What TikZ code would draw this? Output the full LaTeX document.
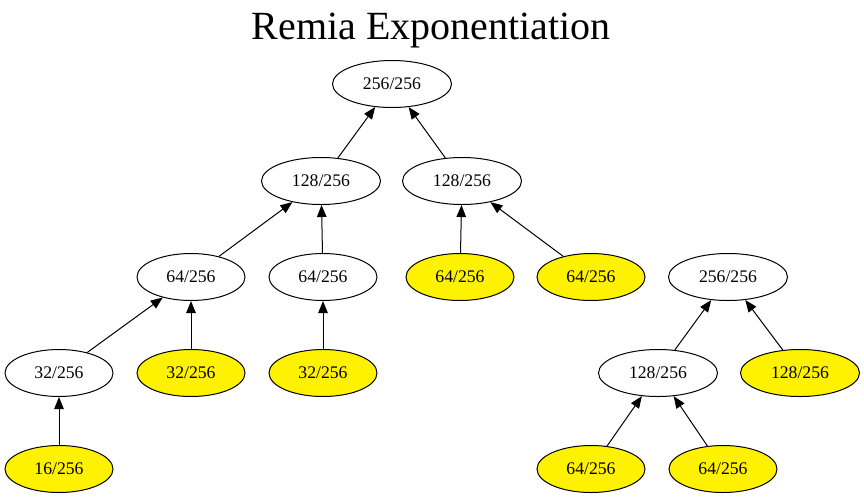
\documentclass[tikz,border=0pt]{standalone}
\usepackage{fontspec}
\setmainfont{Liberation Serif}
\usetikzlibrary{arrows.meta,shapes.geometric}
\begin{document}
\begin{tikzpicture}[x=1pt,y=-1pt,
  nd/.style={ellipse,draw=black,line width=1pt,minimum height=47pt,inner sep=0pt,font=\fontsize{17.7}{20}\selectfont},
  wide/.style={nd,minimum width=119pt},
  narrow/.style={nd,minimum width=108pt},
  hl/.style={fill=yellow},
  edge/.style={draw=black,line width=1pt,-{Triangle[length=12pt,width=9.5pt]}}]
\useasboundingbox (0,0) rectangle (864,499);
\node (title) at (431,31) {\fontsize{40}{44}\selectfont Remia Exponentiation};
\node[wide] (A) at (392,84) {256/256};
\node[wide] (B) at (321,181) {128/256};
\node[wide] (C) at (462,181) {128/256};
\node[narrow] (D) at (191,277) {64/256};
\node[narrow] (E) at (323,277) {64/256};
\node[narrow,hl] (F) at (460,277) {64/256};
\node[narrow,hl] (G) at (591,277) {64/256};
\node[narrow] (H) at (59,373) {32/256};
\node[narrow,hl] (I) at (191,373) {32/256};
\node[narrow,hl] (J) at (323,373) {32/256};
\node[narrow,hl] (K) at (59,469) {16/256};
\node[wide] (L) at (728,277) {256/256};
\node[wide] (M) at (658,373) {128/256};
\node[wide,hl] (N) at (800,373) {128/256};
\node[narrow,hl] (O) at (591,469) {64/256};
\node[narrow,hl] (P) at (723,469) {64/256};
\draw[edge] (B) -- (A);
\draw[edge] (C) -- (A);
\draw[edge] (D) -- (B);
\draw[edge] (E) -- (B);
\draw[edge] (F) -- (C);
\draw[edge] (G) -- (C);
\draw[edge] (H) -- (D);
\draw[edge] (I) -- (D);
\draw[edge] (J) -- (E);
\draw[edge] (K) -- (H);
\draw[edge] (M) -- (L);
\draw[edge] (N) -- (L);
\draw[edge] (O) -- (M);
\draw[edge] (P) -- (M);
\end{tikzpicture}
\end{document}
